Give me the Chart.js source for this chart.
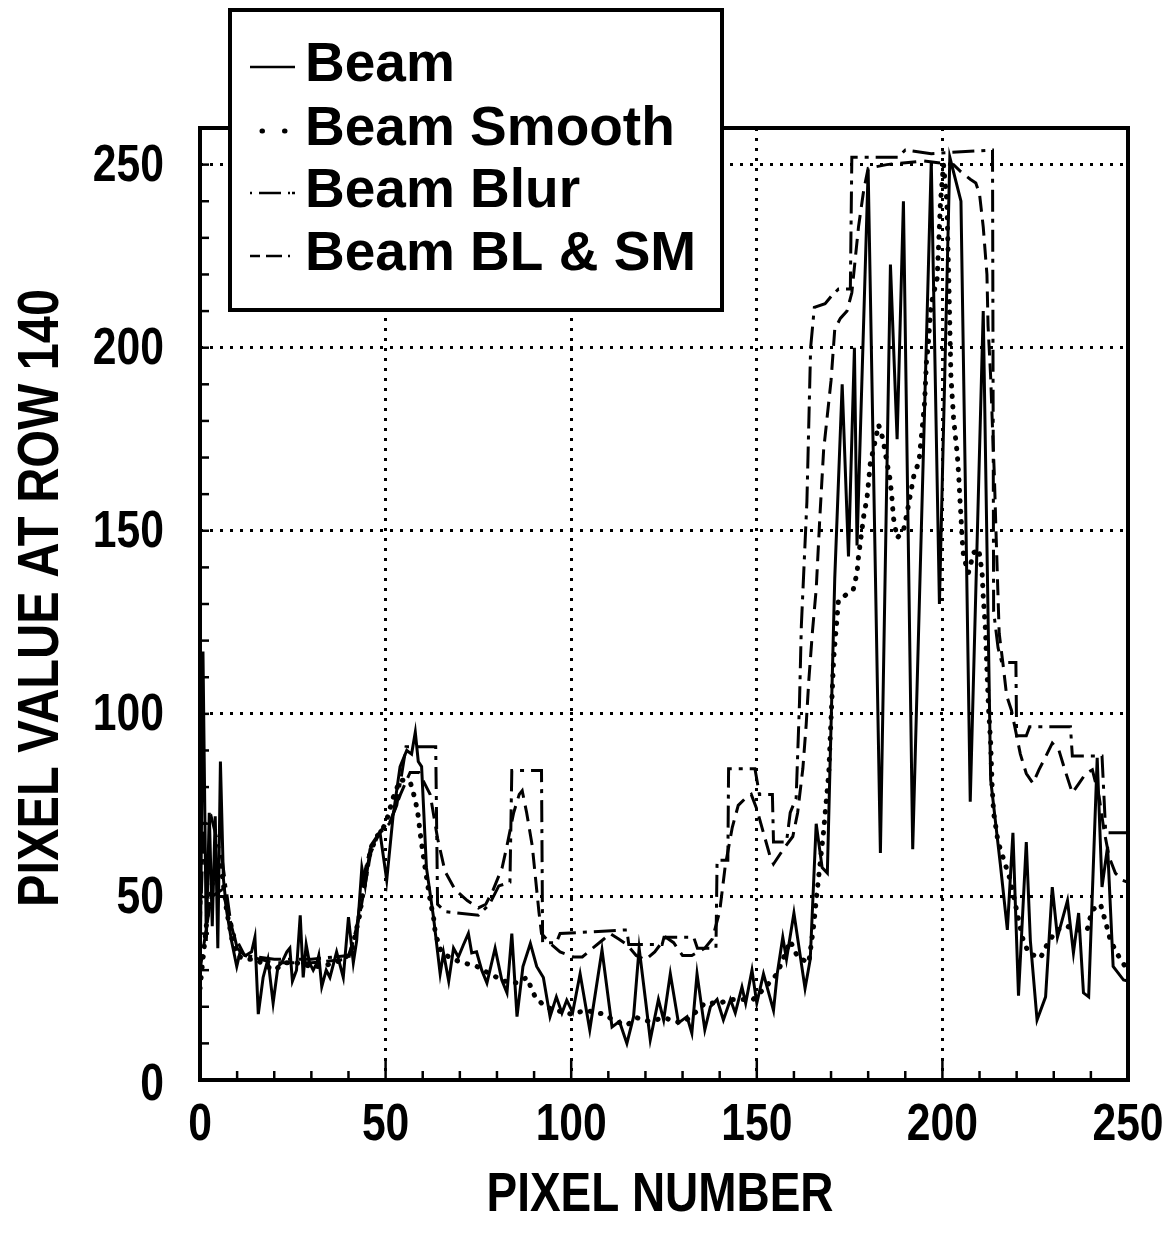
<!DOCTYPE html>
<html>
<head>
<meta charset="utf-8">
<script src="https://cdn.jsdelivr.net/npm/chart.js@4.4.1/dist/chart.umd.min.js"></script>
<style>
  html, body { margin: 0; padding: 0; background: #fff; }
  canvas { display: block; }
</style>
</head>
<body>
<canvas id="beamChart" width="1173" height="1234"></canvas>
<script>
// series values (x = pixel number, y = pixel value)
let beamX = [0, 0.8, 1.7, 2.5, 3.3, 4.1, 4.8, 5.5, 6.3, 7.2, 8.5, 9.9, 10.8, 12.3, 13.9, 14.8, 15.7, 17, 18.3, 19.7, 21, 22, 23.4, 24.2, 24.9, 26, 27, 27.8, 28.6, 29.5, 30.5, 31.5, 32, 32.8, 34, 35, 36.8, 38.6, 40, 41.3, 42.2, 43.6, 44.5, 45.8, 47.6, 48.5, 50.3, 52, 53.9, 55.7, 57, 58, 58.8, 59.7, 61, 62.9, 64.7, 65.6, 67, 68.3, 69.6, 71, 72.3, 73.2, 74.5, 75.9, 77.3, 79.5, 81.3, 82.7, 84, 85.4, 87, 89, 90.7, 92.5, 94.3, 96, 97.5, 98.8, 100.4, 102.4, 105, 108.3, 111, 113, 115, 116.8, 118.3, 120, 121.3, 123.5, 124.9, 126.7, 128.9, 131.2, 132.5, 133.9, 136, 137.5, 139.3, 141, 142.9, 144.2, 146, 147, 148.7, 150, 151.8, 154.5, 155.5, 157, 158, 160, 163, 164.4, 166, 167.6, 169, 171, 173, 174.7, 176.3, 177, 180, 183.3, 186, 187.8, 189.5, 192, 197, 199.2, 202, 205, 207.5, 211, 213, 215.6, 217.5, 219, 220.5, 222.6, 223.7, 225.5, 227.8, 229.6, 231, 233.7, 235.3, 236.7, 238, 239.4, 241.7, 243, 244.5, 246, 248.8, 250];
let beamY = [22, 117, 38, 73, 42, 72, 36, 87, 55, 46, 38, 31, 35, 34, 35, 39, 18, 28, 33, 21, 31, 32, 35, 36, 27, 30, 45, 28, 37, 32, 30, 32, 34, 25.5, 30, 28, 35, 28, 44.5, 32, 38, 58, 53, 63, 66, 67.5, 54.6, 72, 85.6, 90, 89, 95, 87, 85.6, 58, 44.5, 29, 34.7, 27, 36, 33.6, 37, 40, 34.7, 35, 30, 26.5, 36, 27.3, 23.8, 40, 17.3, 31, 37.3, 31, 28, 17.3, 22.7, 18.3, 21.8, 18.5, 29, 13.7, 35.5, 14.5, 16, 10, 17.3, 36, 22, 11, 22, 16.4, 29, 15.6, 17.3, 12.8, 29, 13.7, 20, 22, 16.4, 22, 18.3, 25.4, 21, 30, 21, 29, 19, 29, 39, 33, 45.6, 25, 33, 70, 58, 56.5, 137, 190, 143, 200, 146, 248.6, 62, 222.7, 175, 240, 63, 251, 130, 252, 240, 76, 210, 82, 59, 41, 67.5, 23, 65, 38, 16.4, 22.7, 52.7, 39, 49, 34.7, 45.6, 23.8, 22.7, 88, 52.7, 63.7, 31, 27.3, 27];

let smoothX = [0, 2, 4, 5.5, 7.2, 8.7, 10, 12, 15, 18, 20, 23, 26, 30, 33, 36, 39, 41, 43, 44.5, 45.8, 47.6, 48.5, 50, 52, 53.9, 56.6, 58, 58.8, 59.3, 60.2, 61, 62, 62.9, 63.4, 65, 68, 71, 74.6, 78, 82, 85.4, 88, 90.3, 93, 96, 100, 104, 108.7, 112, 115, 117.7, 121, 125, 129.4, 132, 136, 140, 143, 146, 149, 152, 155.5, 159, 161, 164, 165.3, 166.3, 168, 169.4, 169.8, 170.7, 172, 176, 177, 177.4, 178.8, 179.7, 180.6, 182, 182.8, 184, 185, 185.9, 186.4, 186.8, 187.8, 189.5, 190.5, 192.3, 193.7, 194.7, 195.2, 195.7, 196.2, 196.6, 197, 198.6, 199.5, 200.3, 201.2, 201.8, 202.3, 203, 203.5, 204, 204.4, 204.7, 205, 205.3, 205.7, 207, 208.4, 209.8, 210.7, 211, 211.6, 212, 212.4, 213, 213.4, 213.8, 215, 218.3, 221.5, 223.2, 226.4, 228.6, 230.9, 233.6, 236, 239, 240.3, 242.6, 244, 245.3, 248, 250];
let smoothY = [25, 45, 58, 60, 46, 38, 34, 33, 33, 31, 30, 32, 32, 31, 31, 32, 33, 36, 45, 55, 62, 66.5, 67.5, 70, 77, 82, 81.5, 76.5, 72, 67.5, 61, 55.5, 49, 44.5, 40, 35, 33, 32, 31, 29, 27, 26.5, 28, 22.7, 20, 19, 18, 19, 18, 16, 15, 17, 16, 17, 15.6, 17, 21, 21, 22, 22, 22, 25, 29, 38, 33.6, 32, 42, 52, 68, 84, 94, 115, 131, 134, 138.5, 143, 154, 159, 168.6, 175, 179, 175, 169, 164, 159, 153.6, 148, 150, 155, 165, 169, 179.5, 185, 196, 201, 207, 212, 219, 240, 250, 240, 215, 192, 181, 175.7, 171, 165, 159, 154, 148, 143, 138.5, 144, 145, 138.5, 132, 123, 112, 102, 92, 80, 73, 65, 54.6, 39, 34.7, 33.3, 37.8, 41, 42, 41, 41, 46.4, 48, 43, 38, 32.8, 30];

let blurX = [0, 1, 3, 6, 8, 10, 12, 20, 30, 40, 42, 44, 46, 48, 51, 53, 55.5, 63.5, 64, 66, 75, 78, 80.5, 83.5, 84, 92, 92.3, 96, 97, 115, 115.5, 124.5, 125, 133, 134, 139, 139.3, 142.2, 142.4, 149.5, 150.7, 154.2, 154.5, 158, 159, 160.6, 161.5, 162, 163.5, 164.5, 165.5, 168.4, 170, 172, 175.2, 175.6, 188, 190, 197, 213.5, 213.8, 215, 216, 219.8, 220, 222.6, 223.5, 234.5, 235, 243, 244, 250];
let blurY = [40, 70, 72, 60, 45, 36, 34, 33, 33, 34, 40, 55, 64, 67, 70, 75, 91, 91, 48, 46, 45, 48, 53, 54, 84.5, 84.5, 37.5, 37.5, 40, 41, 37, 37, 39, 39, 36, 36, 60, 60, 85, 85, 78, 78, 65, 65, 73, 77, 103, 124, 158, 200, 211, 212, 214, 216, 216, 252, 252, 254, 253, 254, 128, 118, 114, 114, 94, 94, 96.5, 96.5, 88.5, 88.5, 67.5, 67.5];

let blsmX = [0, 3, 6, 9, 12, 20, 30, 40, 43, 46, 48.5, 51, 54, 56.6, 59, 62, 63, 64, 66, 68.7, 72, 75, 77, 79, 81.4, 82.7, 84.5, 86, 86.8, 88, 89.5, 90.4, 91.3, 92, 94.7, 97, 100.6, 103, 105.8, 108.8, 110.5, 112.8, 115, 117.5, 120, 122.5, 125.5, 127.6, 130, 132.5, 136, 138, 140, 141.5, 143.4, 145, 147, 148.5, 150, 151.8, 153.6, 154.5, 157, 159.7, 161, 162.4, 163.3, 164, 165, 166, 167, 168, 170, 171, 172.5, 174.3, 175.6, 176.5, 177.4, 178.8, 180, 185, 195, 203, 205, 207.5, 209, 210, 211, 212, 212.3, 213, 213.5, 214, 214.4, 214.8, 215.3, 216.4, 217.3, 218.6, 220, 221, 222.6, 224.4, 226, 227.9, 229.6, 231.4, 233, 235, 236.8, 238.6, 240.4, 242.2, 243.5, 244.9, 246.6, 248.4, 250];
let blsmY = [30, 50, 52, 40, 34, 32, 32, 33, 45, 62, 68, 70, 78, 84, 84, 78, 72, 66, 57, 52, 49, 47, 48, 52, 58, 64, 73, 78, 79, 73, 64, 55, 46, 40, 37, 35, 33.6, 33.6, 36, 38.5, 40, 38.5, 37, 34, 32.8, 35, 39, 37.5, 34, 34, 36, 38.5, 46, 58.5, 69, 75, 77, 78, 74, 67.5, 61, 59, 62.8, 66.5, 73, 85, 97, 109, 122.6, 134, 154, 172, 191, 205, 208, 210, 215, 224, 233, 243, 249, 250, 251, 250, 248, 246, 245, 242, 233, 220, 206, 192, 178, 165, 151, 138, 122, 113, 105, 101, 94, 89, 83.7, 81, 84.7, 88.5, 92, 90, 84.7, 78.4, 81, 83.7, 84.7, 77.5, 68.4, 61, 56.5, 54.6, 54];

let seriesNames = ['Beam', 'Beam Smooth', 'Beam Blur', 'Beam BL & SM'];
let xTickLabels = [0, 50, 100, 150, 200, 250];
let yTickLabels = [0, 50, 100, 150, 200, 250];

// pairs the x and y arrays for chart.js
function pts(xs, ys) {
  return xs.map((x, i) => ({ x: x, y: ys[i] }));
}

const face = "'Liberation Sans', Arial, sans-serif";

// no narrow font installed, so squeeze the bold face sideways
function narrowText(ctx, text, x, y, size, squeeze, align, angle) {
  ctx.save();
  ctx.translate(x, y);
  if (angle) ctx.rotate(angle);
  ctx.scale(squeeze, 1);
  ctx.font = 'bold ' + size + 'px ' + face;
  ctx.textAlign = align;
  ctx.textBaseline = 'middle';
  ctx.fillText(text, 0, 0);
  ctx.restore();
}

// legend samples are short, so they get their own dash patterns
const legendDash = [[], [0.5, 22], [2, 7, 22, 7, 2], [10, 6, 16, 6, 2]];

// draws frame, inside tick marks, tick labels, axis titles and the boxed legend
const decorations = {
  id: 'decorations',
  afterDraw(chart) {
    const ctx = chart.ctx;
    const a = chart.chartArea;
    const xs = chart.scales.x;
    const ys = chart.scales.y;
    ctx.save();
    ctx.strokeStyle = '#000';
    ctx.fillStyle = '#000';
    ctx.setLineDash([]);
    ctx.lineCap = 'butt';

    // inner ticks
    ctx.lineWidth = 2.5;
    for (let v = 10; v < 250; v += 10) {
      const px = xs.getPixelForValue(v);
      const len = v % 50 === 0 ? 20 : 9;
      ctx.beginPath();
      ctx.moveTo(px, a.bottom);
      ctx.lineTo(px, a.bottom - len);
      ctx.stroke();
    }
    for (let v = 10; v <= 250; v += 10) {
      const py = ys.getPixelForValue(v);
      ctx.beginPath();
      ctx.moveTo(a.left, py);
      ctx.lineTo(a.left + 9, py);
      ctx.stroke();
    }

    // frame
    ctx.lineWidth = 4;
    ctx.strokeRect(a.left, a.top, a.right - a.left, a.bottom - a.top);

    // tick labels
    xs.ticks.forEach(t => {
      narrowText(ctx, String(t.value), xs.getPixelForValue(t.value), a.bottom + 46, 52, 0.82, 'center');
    });
    ys.ticks.forEach(t => {
      const py = ys.getPixelForValue(t.value) + (t.value === 0 ? 6 : 2);
      narrowText(ctx, String(t.value), 164, py, 52, 0.82, 'right');
    });

    // axis titles
    narrowText(ctx, 'PIXEL NUMBER', 660, 1196, 56, 0.82, 'center');
    narrowText(ctx, 'PIXEL VALUE AT ROW 140', 42, 598, 58, 0.84, 'center', -Math.PI / 2);

    // legend box
    ctx.fillStyle = '#fff';
    ctx.fillRect(230, 10, 492, 300);
    ctx.lineWidth = 4;
    ctx.strokeRect(230, 10, 492, 300);
    const rows = [81, 145, 207, 270];
    ctx.font = 'bold 55px ' + face;
    ctx.textAlign = 'left';
    ctx.textBaseline = 'alphabetic';
    chart.data.datasets.forEach((ds, i) => {
      const y = rows[i] - 14;
      ctx.strokeStyle = '#000';
      ctx.lineWidth = i === 1 ? 5 : 2.5;
      ctx.lineCap = i === 1 ? 'round' : 'butt';
      ctx.setLineDash(legendDash[i]);
      ctx.beginPath();
      ctx.moveTo(i === 1 ? 262 : 250, y);
      ctx.lineTo(295, y);
      ctx.stroke();
      ctx.fillStyle = '#000';
      ctx.fillText(ds.label, 305, rows[i]);
    });
    ctx.restore();
  }
};

const ctx = document.getElementById('beamChart').getContext('2d');
const beamChart = new Chart(ctx, {
  type: 'line',
  data: {
    datasets: [
      {
        label: seriesNames[0],
        data: pts(beamX, beamY),
        borderColor: '#000',
        borderWidth: 3
      },
      {
        label: seriesNames[1],
        data: pts(smoothX, smoothY),
        borderColor: '#000',
        borderWidth: 5,
        borderDash: [0.5, 10],
        borderCapStyle: 'round'
      },
      {
        label: seriesNames[2],
        data: pts(blurX, blurY),
        borderColor: '#000',
        borderWidth: 3,
        borderDash: [22, 7, 4, 7]
      },
      {
        label: seriesNames[3],
        data: pts(blsmX, blsmY),
        borderColor: '#000',
        borderWidth: 3,
        borderDash: [16, 8]
      }
    ]
  },
  options: {
    responsive: false,
    animation: false,
    events: [],
    layout: { padding: 0 },
    elements: {
      point: { radius: 0 },
      line: { tension: 0, fill: false }
    },
    plugins: {
      legend: { display: false },
      tooltip: { enabled: false }
    },
    scales: {
      x: {
        type: 'linear',
        min: 0,
        max: 250,
        afterFit(scale) {
          scale.height = 154;
          scale.paddingLeft = 0;
          scale.paddingRight = 45;
        },
        afterBuildTicks(scale) { scale.ticks = xTickLabels.map(v => ({ value: v })); },
        ticks: { display: false },
        grid: {
          drawTicks: false,
          lineWidth: 3,
          color: c => (c.tick && (c.tick.value === 0 || c.tick.value === 250)) ? 'rgba(0,0,0,0)' : '#000'
        },
        border: { display: false, dash: [3, 7] }
      },
      y: {
        type: 'linear',
        min: 0,
        max: 260,
        afterFit(scale) {
          scale.width = 200;
          scale.paddingTop = 128;
          scale.paddingBottom = 0;
        },
        afterBuildTicks(scale) { scale.ticks = yTickLabels.map(v => ({ value: v })); },
        ticks: { display: false },
        grid: {
          drawTicks: false,
          lineWidth: 3,
          color: c => (c.tick && c.tick.value === 0) ? 'rgba(0,0,0,0)' : '#000'
        },
        border: { display: false, dash: [3, 7] }
      }
    }
  },
  plugins: [decorations]
});
</script>
</body>
</html>
